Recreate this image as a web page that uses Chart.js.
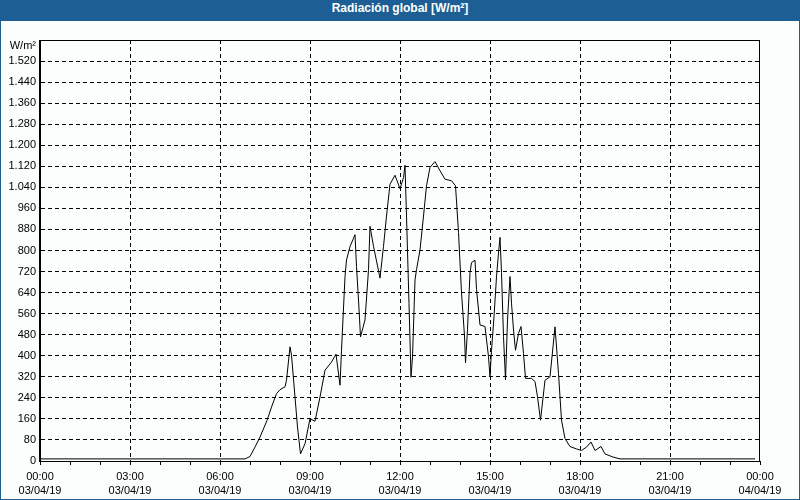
<!DOCTYPE html>
<html>
<head>
<meta charset="utf-8">
<script src="https://cdn.jsdelivr.net/npm/chart.js@4"></script>
<style>
    body { margin: 0; background: #fff; }
    #frame {
        position: relative;
        width: 800px;
        height: 500px;
        box-sizing: border-box;
        border: 1px solid #1d5f95;
        background: #fcfdfd;
    }
    #titleBar {
        height: 20px;
        line-height: 20px;
        background: #1d5f95;
        color: #fff;
        font: bold 12px "Liberation Sans", Arial, sans-serif;
        text-align: center;
    }
    #wrap { position: absolute; left: 0; top: 20px; width: 798px; height: 478px; }
</style>
</head>
<body>
<div id="frame">
    <div id="titleBar">Radiación global [W/m²]</div>
    <div id="wrap"><canvas id="radChart" width="798" height="478"></canvas></div>
</div>
<script>
// Minutes since 00:00 on 03/04/19
const minutes = [
    0, 410, 420, 430, 440, 454, 463, 473, 480, 490, 493, 500, 503, 510, 515, 521,
    530, 540, 550, 560, 570, 583, 592, 600, 603, 610, 613, 620, 630, 633, 637, 641,
    650, 657, 660, 667, 680, 687, 693, 700, 710, 720, 727, 730, 733, 738, 742, 745,
    750, 753, 760, 767, 773, 780, 790, 800, 810, 823, 831, 837, 843, 849, 851, 855,
    860, 863, 870, 873, 880, 890, 897, 900, 903, 908, 913, 917, 920, 923, 927, 931,
    935, 940, 943, 947, 951, 957, 962, 967, 971, 983, 990, 995, 1001, 1010, 1020, 1030,
    1037, 1043, 1050, 1060, 1073, 1083, 1093, 1102, 1110, 1122, 1130, 1146, 1160, 1430
];
// Global radiation, W/m²
const radiation = [
    8, 8, 17, 53, 91, 154, 205, 256, 271, 282, 307, 434, 402, 243, 129, 27,
    66, 161, 151, 243, 345, 376, 406, 288, 421, 701, 764, 815, 860, 739, 612, 472,
    536, 727, 892, 816, 695, 816, 931, 1052, 1086, 1035, 1077, 1124, 931, 598, 318, 395,
    688, 727, 802, 931, 1046, 1116, 1138, 1103, 1071, 1065, 1046, 868, 640, 475, 373, 500,
    716, 754, 763, 652, 517, 511, 396, 320, 421, 548, 700, 790, 850, 717, 472, 308,
    536, 701, 600, 498, 421, 485, 511, 409, 314, 314, 302, 244, 155, 307, 320, 510,
    332, 155, 85, 55, 46, 40, 53, 72, 40, 55, 27, 15, 8, 8
];
// x tick labels every 3 hours
const timeLabels = ['00:00', '03:00', '06:00', '09:00', '12:00', '15:00', '18:00', '21:00', '00:00'];
const dateLabels = ['03/04/19', '03/04/19', '03/04/19', '03/04/19', '03/04/19', '03/04/19', '03/04/19', '03/04/19', '04/04/19'];

const FONT = '"Liberation Sans", Arial, sans-serif';

function fmtThousands(n) {
    if (n >= 1000) return Math.floor(n / 1000) + '.' + String(n % 1000).padStart(3, '0');
    return String(n);
}

// plot frame + unit label
const framePlugin = {
    id: 'framePlugin',
    afterDraw(chart) {
        const { ctx, chartArea: a } = chart;
        ctx.save();
        ctx.strokeStyle = '#000';
        ctx.lineWidth = 1;
        ctx.setLineDash([]);
        ctx.strokeRect(Math.round(a.left) - 0.5, Math.round(a.top) + 0.5,
            Math.round(a.right - a.left), Math.round(a.bottom - a.top));
        ctx.fillStyle = '#000';
        ctx.font = '11px ' + FONT;
        ctx.textAlign = 'right';
        ctx.textBaseline = 'middle';
        ctx.fillText('W/m²', 35, 25);
        ctx.restore();
    }
};

document.addEventListener('DOMContentLoaded', () => {
    const ctx = document.getElementById('radChart').getContext('2d');
    new Chart(ctx, {
        type: 'line',
        data: {
            datasets: [{
                data: minutes.map((m, i) => ({ x: m, y: radiation[i] })),
                borderColor: '#000',
                borderWidth: 1,
                pointRadius: 0,
                tension: 0,
                fill: false
            }]
        },
        options: {
            responsive: false,
            animation: false,
            layout: { padding: { top: 19, right: 39, left: 0, bottom: 0 } },
            plugins: {
                legend: { display: false },
                tooltip: { enabled: false }
            },
            scales: {
                x: {
                    type: 'linear',
                    min: 0,
                    max: 1440,
                    afterFit: s => { s.height = 38; },
                    border: { display: true, color: '#000', width: 1, dash: [4, 3] },
                    grid: {
                        color: c => (c.tick && c.tick.value % 180 === 0 && c.tick.value > 0 && c.tick.value < 1440) ? '#000' : 'rgba(0,0,0,0)',
                        drawTicks: true,
                        tickLength: 4,
                        tickColor: '#000',
                        tickBorderDash: []
                    },
                    ticks: {
                        stepSize: 60,
                        autoSkip: false,
                        maxRotation: 0,
                        padding: 4,
                        color: '#000',
                        font: { family: FONT, size: 11, lineHeight: 1.36 },
                        callback: v => v % 180 === 0 ? [timeLabels[v / 180], dateLabels[v / 180]] : ''
                    }
                },
                y: {
                    min: 0,
                    max: 1600,
                    afterFit: s => { s.width = 39; },
                    border: { display: true, color: '#000', width: 1, dash: [4, 3] },
                    grid: {
                        color: c => (c.tick && c.tick.value > 0 && c.tick.value < 1600) ? '#000' : 'rgba(0,0,0,0)',
                        drawTicks: false
                    },
                    ticks: {
                        stepSize: 80,
                        padding: 4,
                        color: '#000',
                        font: { family: FONT, size: 11 },
                        callback: v => v === 1600 ? '' : fmtThousands(v)
                    }
                }
            }
        },
        plugins: [framePlugin]
    });
});
</script>
</body>
</html>
